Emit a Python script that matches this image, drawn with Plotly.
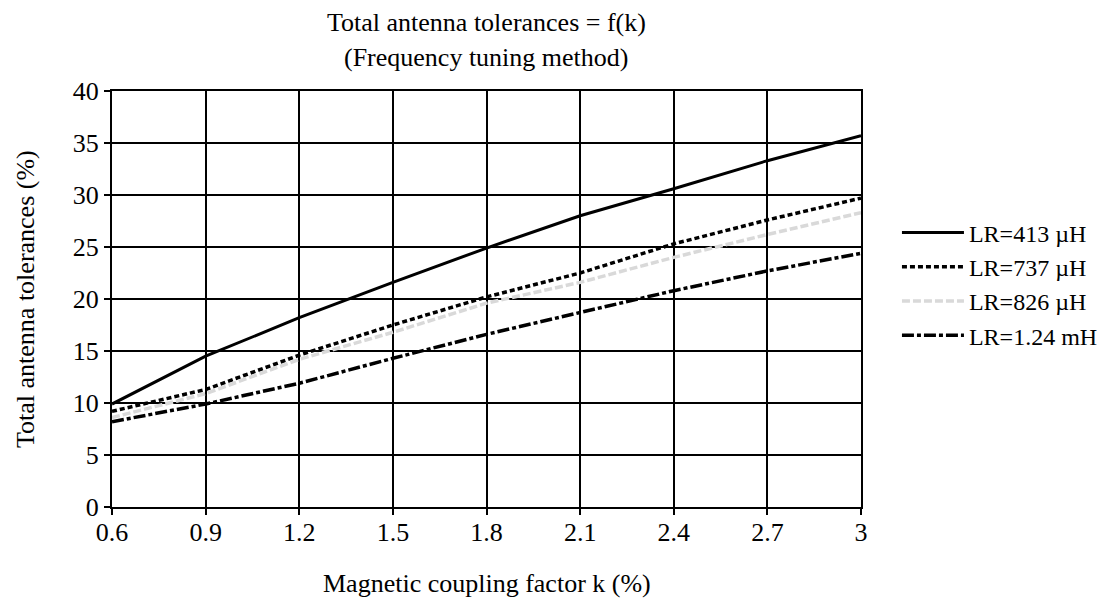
import plotly.graph_objects as go

k_values = [0.6, 0.9, 1.2, 1.5, 1.8, 2.1, 2.4, 2.7, 3.0]
x_tick_labels = ["0.6", "0.9", "1.2", "1.5", "1.8", "2.1", "2.4", "2.7", "3"]

lr_413 = [9.9, 14.5, 18.2, 21.6, 24.9, 28.0, 30.6, 33.3, 35.7]
lr_737 = [9.2, 11.3, 14.6, 17.5, 20.2, 22.5, 25.3, 27.6, 29.7]
lr_826 = [8.6, 10.9, 14.2, 16.8, 19.6, 21.6, 24.0, 26.2, 28.3]
lr_124 = [8.2, 9.9, 11.9, 14.3, 16.6, 18.7, 20.8, 22.7, 24.4]

series_names = ["LR=413 \u00b5H", "LR=737 \u00b5H", "LR=826 \u00b5H", "LR=1.24 mH"]
title_lines = ["Total antenna tolerances = f(k)", "(Frequency tuning method)"]
x_title = "Magnetic coupling factor k (%)"
y_title = "Total antenna tolerances (%)"

FONT = "Liberation Serif, Times New Roman, serif"

W, H = 1112, 595
L, R, T, B = 104, 259, 83, 96
PH = H - T - B
PW = W - L - R

fig = go.Figure()
styles = [
    dict(color="black", width=3, dash="solid"),
    dict(color="black", width=3.5, dash="5px,3px"),
    dict(color="#d9d9d9", width=3.5, dash="8px,3px"),
    dict(color="black", width=3.5, dash="12px,3px,4px,3px"),
]
for name, ys, st in zip(series_names, [lr_413, lr_737, lr_826, lr_124], styles):
    fig.add_trace(go.Scatter(x=k_values, y=ys, mode="lines", name=name, line=st))

annotations = [
    dict(text=title_lines[0], xref="paper", yref="paper", x=0.5, xanchor="center",
         y=1 + (T - 14) / PH, yanchor="middle", showarrow=False,
         font=dict(family=FONT, size=26, color="black")),
    dict(text=title_lines[1], xref="paper", yref="paper", x=0.5, xanchor="center",
         y=1 + (T - 49) / PH, yanchor="middle", showarrow=False,
         font=dict(family=FONT, size=26, color="black")),
    dict(text=x_title, xref="paper", yref="paper", x=0.5, xanchor="center",
         y=-(575 - (T + PH)) / PH, yanchor="middle", showarrow=False,
         font=dict(family=FONT, size=26, color="black")),
    dict(text=y_title, xref="paper", yref="paper", x=-(L - 17) / PW, xanchor="center",
         y=0.5, yanchor="middle", showarrow=False, textangle=-90,
         font=dict(family=FONT, size=26, color="black")),
]

fig.update_layout(
    width=W, height=H,
    paper_bgcolor="white", plot_bgcolor="white",
    margin=dict(l=L, r=R, t=T, b=B),
    font=dict(family=FONT, size=26, color="black"),
    annotations=annotations,
    legend=dict(
        x=1.048, xanchor="left", y=(T + PH - 276) / PH, yanchor="middle",
        font=dict(family=FONT, size=24, color="black"),
        itemwidth=62, tracegroupgap=0, bgcolor="rgba(0,0,0,0)",
    ),
    showlegend=True,
)
fig.update_xaxes(
    range=[0.6, 3.0], tickvals=k_values, ticktext=x_tick_labels,
    showline=True, linecolor="black", linewidth=2, mirror=True,
    showgrid=True, gridcolor="black", gridwidth=2,
    ticks="outside", ticklen=6, tickwidth=2, tickcolor="black",
    ticklabelstandoff=-5,
    zeroline=False, tickfont=dict(family=FONT, size=26),
)
fig.update_yaxes(
    range=[0, 40], dtick=5,
    showline=True, linecolor="black", linewidth=2, mirror=True,
    showgrid=True, gridcolor="black", gridwidth=2,
    ticks="outside", ticklen=6, tickwidth=2, tickcolor="black",
    zeroline=False, tickfont=dict(family=FONT, size=26),
)

fig.write_html("out.html")
